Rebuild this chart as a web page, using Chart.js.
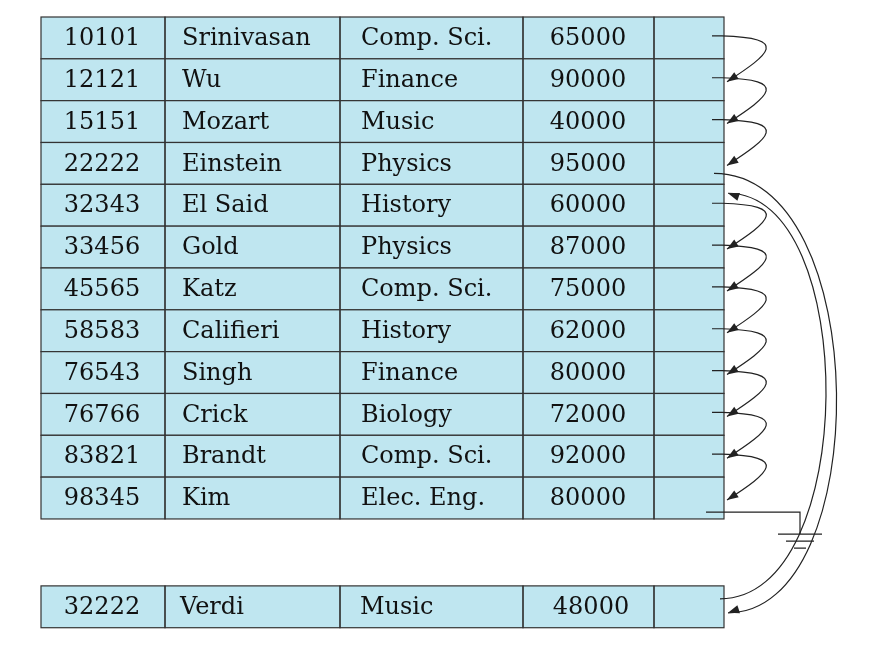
<!DOCTYPE html>
<html><head><meta charset="utf-8">
<script src="https://cdn.jsdelivr.net/npm/chart.js@4"></script>
<style>html,body{margin:0;padding:0;background:#fff}#w{width:882px;height:656px}</style>
</head><body><div id="w"><canvas id="c"></canvas></div>
<script>
const ids=["10101","12121","15151","22222","32343","33456","45565","58583","76543","76766","83821","98345"];
const names=["Srinivasan","Wu","Mozart","Einstein","El Said","Gold","Katz","Califieri","Singh","Crick","Brandt","Kim"];
const depts=["Comp. Sci.","Finance","Music","Physics","History","Physics","Comp. Sci.","History","Finance","Biology","Comp. Sci.","Elec. Eng."];
const salaries=[65000,90000,40000,95000,60000,87000,75000,62000,80000,72000,92000,80000];
const freeRow=["32222","Verdi","Music",48000];
const freeRowPos=13.6;
const links=[[0,1],[1,2],[2,3],[4,5],[5,6],[6,7],[7,8],[8,9],[9,10],[10,11]];

const colX=[41,165,340,523,654,724];
const fill='#bfe6f0';
const font='24px "DejaVu Serif", "Liberation Serif", serif';

const plug={id:'tbl',afterDraw(ch){
 const c=ch.ctx,X=ch.scales.x,Y=ch.scales.y;
 const px=v=>X.getPixelForValue(v), py=v=>Y.getPixelForValue(v);
 c.save();
 function row(pos,vals,free){
  const t=py(pos),b=py(pos+1),m=(t+b)/2+1;
  c.fillStyle=fill;c.fillRect(px(colX[0]),t,px(colX[5])-px(colX[0]),b-t);
  c.strokeStyle='#333';c.lineWidth=1.2;
  for(let i=0;i<5;i++){c.strokeRect(px(colX[i]),t,px(colX[i+1])-px(colX[i]),b-t);}
  c.fillStyle='#111';c.font=font;c.textBaseline='middle';
  c.textAlign='center';c.fillText(vals[0],px(102),m);
  c.textAlign='left';c.fillText(vals[1],px(free?180:182),m);c.fillText(vals[2],px(free?360:361),m);
  c.textAlign='center';c.fillText(String(vals[3]),px(free?591:588),m);
 }
 for(let i=0;i<ids.length;i++)row(i,[ids[i],names[i],depts[i],salaries[i]]);
 row(freeRowPos,freeRow,true);
 c.strokeStyle='#222';c.fillStyle='#222';c.lineWidth=1.2;
 function head(x,y,ang){c.beginPath();c.moveTo(x,y);c.lineTo(x+12*Math.cos(ang+0.35),y+12*Math.sin(ang+0.35));c.lineTo(x+12*Math.cos(ang-0.35),y+12*Math.sin(ang-0.35));c.closePath();c.fill();}
 const mid=r=>(py(r)+py(r+1))/2;
 links.forEach(([a,b])=>{
  const y0=mid(a)-2,y1=mid(b)+2,x1=px(727);
  c.beginPath();c.moveTo(px(712),y0);c.lineTo(px(722),y0);
  c.bezierCurveTo(px(790),y0+2,px(770),y0+18,x1,y1);c.stroke();
  head(x1,y1,Math.atan2(-(y1-y0-18),px(770)-x1));
 });
 let y0=mid(3)+10,y1=mid(freeRowPos)+6;
 c.beginPath();c.moveTo(px(714),y0);c.bezierCurveTo(px(875),y0,px(875),y1,px(728),y1);c.stroke();head(px(728),y1,Math.atan2(-1,3));
 y0=mid(freeRowPos)-8;y1=mid(4)-12;
 c.beginPath();c.moveTo(px(720),y0);c.bezierCurveTo(px(860),y0,px(860),y1,px(728),y1);c.stroke();head(px(728),y1,Math.atan2(1,3));
 const g=mid(11)+14;
 c.beginPath();c.moveTo(px(706),g);c.lineTo(px(800),g);c.lineTo(px(800),g+22);
 c.moveTo(px(778),g+22);c.lineTo(px(822),g+22);c.moveTo(px(786),g+29);c.lineTo(px(814),g+29);c.moveTo(px(794),g+36);c.lineTo(px(806),g+36);c.stroke();
 c.restore();
}};
new Chart(document.getElementById('c'),{type:'scatter',data:{datasets:[{data:[]}]},
 options:{responsive:true,maintainAspectRatio:false,animation:false,
 layout:{padding:0},plugins:{legend:{display:false},tooltip:{enabled:false}},
 scales:{x:{type:'linear',min:0,max:882,display:false},
 y:{type:'linear',reverse:true,min:-17/41.83,max:(656-17)/41.83,display:false}}},
 plugins:[plug]});
</script></body></html>
